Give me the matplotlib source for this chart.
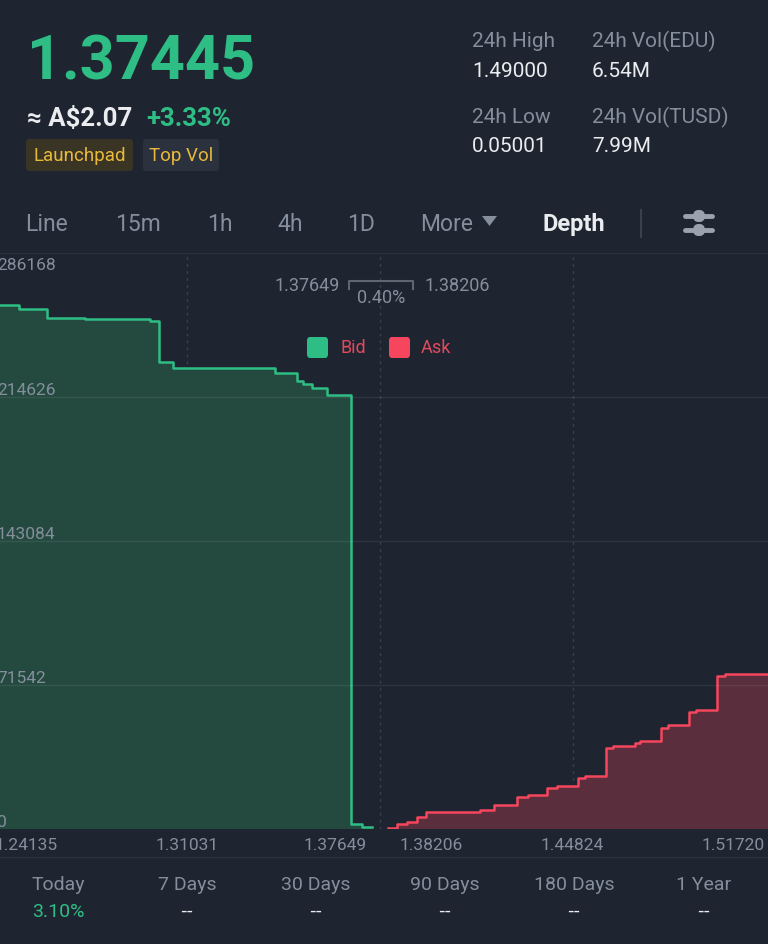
import matplotlib
matplotlib.use('Agg')
import matplotlib.pyplot as plt
import matplotlib.transforms as mtrans
from matplotlib.patches import FancyBboxPatch, Polygon
from matplotlib.lines import Line2D

# ---------------- data ----------------
last_price = "1.37445"
fiat_price = "≈ A$2.07"
change_pct = "+3.33%"
tags = ["Launchpad", "Top Vol"]
stat_labels = ["24h High", "24h Vol(EDU)", "24h Low", "24h Vol(TUSD)"]
stat_values = ["1.49000", "6.54M", "0.05001", "7.99M"]
tabs = ["Line", "15m", "1h", "4h", "1D", "More"]
active_tab = "Depth"

bid_price = [1.24135, 1.25009, 1.26013, 1.27375, 1.29705, 1.30027, 1.30529,
             1.34185, 1.34974, 1.35189, 1.35511, 1.36049, 1.36909, 1.37303, 1.37649]
bid_depth = [260300, 258200, 253900, 253400, 252500, 232200, 229200,
             226700, 222700, 221100, 219100, 215600, 2500, 1000, 1000]
ask_price = [1.38206, 1.38529, 1.38887, 1.39245, 1.39568, 1.41503, 1.42005, 1.42830,
             1.43224, 1.43905, 1.44263, 1.45016, 1.45267, 1.46020, 1.46271, 1.47059,
             1.47238, 1.47991, 1.48242, 1.48995, 1.49245, 1.49998, 1.50285, 1.51826]
ask_depth = [650, 2500, 3500, 6000, 8450, 9450, 11900, 15900,
             16900, 20400, 21400, 25300, 26300, 40200, 41200, 42700,
             43700, 50200, 51700, 58100, 59100, 76000, 77000, 77000]

y_ticks = [0, 71542, 143084, 214626, 286168]
bid_ticks = [1.24135, 1.31031, 1.37649]
ask_ticks = [1.38206, 1.44824, 1.51720]
best_bid = "1.37649"
best_ask = "1.38206"
spread = "0.40%"

periods = ["Today", "7 Days", "30 Days", "90 Days", "180 Days", "1 Year"]
period_vals = ["3.10%", "--", "--", "--", "--", "--"]

# ---------------- style ----------------
W, H = 768, 944
BG = '#1f2530'
GREEN = '#2ebd85'
RED = '#f6465d'
GREY = '#848e9c'
WHITE = '#eaecef'
YELLOW = '#e9b93a'
BID_FILL = '#244a40'
ASK_FILL = '#5a2e3c'
LINE_C = '#2b313b'
FONT = ['Roboto', 'DejaVu Sans']

fig = plt.figure(figsize=(W / 100, H / 100), dpi=100, facecolor=BG)


def fx(x):
    return x / W


def fy(y):
    return 1 - y / H


def txt(x, y, s, size, color, ha='left', va='baseline', weight='normal', family=None):
    fig.text(fx(x), fy(y), s, fontsize=size, color=color, ha=ha, va=va,
             fontweight=weight, family=family or FONT)


def hline(x0, x1, y, color=LINE_C, lw=1.0):
    fig.add_artist(Line2D([fx(x0), fx(x1)], [fy(y), fy(y)], color=color, lw=lw,
                          transform=fig.transFigure))


# ---------------- header ----------------
txt(27, 80, last_price, 44, GREEN, weight='bold')
txt(27, 126, fiat_price, 18.5, WHITE, weight='bold')
txt(146, 126, change_pct, 18.5, GREEN, weight='bold')

tag_boxes = [(26, 139, 107, 32, '#3a3424'), (143, 139, 76, 32, '#2b313d')]
for (x, y, w, h, c), t in zip(tag_boxes, tags):
    fig.add_artist(FancyBboxPatch((fx(x), fy(y + h)), w / W, h / H,
                                  boxstyle='round,pad=0,rounding_size=0.004',
                                  transform=fig.transFigure, facecolor=c, edgecolor='none'))
    txt(x + w / 2, y + h / 2 + 1, t, 13.5, YELLOW, ha='center', va='center')

stat_pos = [(472, 47, 77), (592, 47, 77), (472, 123, 152), (592, 123, 152)]
for (x, yl, yv), lab, val in zip(stat_pos, stat_labels, stat_values):
    txt(x, yl, lab, 15, GREY)
    txt(x, yv, val, 15, WHITE)

# ---------------- tabs ----------------
tab_x = [25, 115, 207, 277, 347, 420]
for x, t in zip(tab_x, tabs):
    txt(x, 231, t, 16.5, GREY)
fig.add_artist(Polygon([[fx(482), fy(216)], [fx(497), fy(216)], [fx(489.5), fy(226)]],
                       closed=True, transform=fig.transFigure, facecolor=GREY, edgecolor='none'))
txt(543, 231, active_tab, 17, WHITE, weight='bold')
fig.add_artist(Line2D([fx(641), fx(641)], [fy(210), fy(237)], color='#3a414c', lw=1.5,
                      transform=fig.transFigure))
# settings icon
for yy, kx in [(216, 699), (230, 699)]:
    fig.add_artist(Line2D([fx(685), fx(712)], [fy(yy), fy(yy)], color='#9aa2ae', lw=3.5,
                          solid_capstyle='round', transform=fig.transFigure))
    fig.add_artist(FancyBboxPatch((fx(kx - 6), fy(yy + 6)), 12 / W, 12 / H,
                                  boxstyle='round,pad=0,rounding_size=0.007',
                                  transform=fig.transFigure, facecolor='#9aa2ae', edgecolor='none'))

hline(0, W, 253)
hline(0, W, 857)

# ---------------- depth chart ----------------
px_per_unit = 2790.0
top_px, base_px = 253, 829
bid_left_px = -5.4
ax_b_w = 384 - bid_left_px
ax_b = fig.add_axes([bid_left_px / W, (H - base_px) / H, ax_b_w / W, (base_px - top_px) / H])
ax_a = fig.add_axes([384 / W, (H - base_px) / H, 384 / W, (base_px - top_px) / H])

bid_lo = bid_ticks[0]
ax_b.set_xlim(bid_lo, bid_lo + ax_b_w / px_per_unit)
ask_lo = ask_ticks[0] - 4 / px_per_unit
ax_a.set_xlim(ask_lo, ask_lo + 384 / px_per_unit)

for ax in (ax_b, ax_a):
    ax.set_ylim(y_ticks[0], y_ticks[-1])
    ax.set_facecolor('none')
    ax.axis('off')
    for v in y_ticks[1:-1]:
        ax.axhline(v, color='white', alpha=0.07, lw=1, zorder=3)

# vertical dotted grid
ax_b.axvline(bid_ticks[1], color='#3a414c', lw=1, ls=(0, (2, 3)), zorder=0)
ax_a.axvline(ask_ticks[1], color='#3a414c', lw=1, ls=(0, (2, 3)), zorder=0)
ax_b.axvline(ax_b.get_xlim()[1] - 4 / px_per_unit, color='#3a414c', lw=1, ls=(0, (2, 3)), zorder=0)

ax_b.fill_between(bid_price, bid_depth, step='post', color=BID_FILL, lw=0, zorder=1)
ax_b.step(bid_price, bid_depth, where='post', color=GREEN, lw=1.8, zorder=2)
ax_a.fill_between(ask_price, ask_depth, step='post', color=ASK_FILL, lw=0, zorder=1)
ax_a.step(ask_price, ask_depth, where='post', color=RED, lw=1.8, zorder=2)

# y labels
for v in y_ticks:
    off = -13 if v == y_ticks[-1] else 6.5
    tr = mtrans.blended_transform_factory(fig.transFigure, ax_b.transData) + \
        mtrans.ScaledTranslation(0, off / 100, fig.dpi_scale_trans)
    fig.text(-3 / W, v, str(v), transform=tr, fontsize=12.5, color=GREY,
             ha='left', va='center', family=FONT)


# x labels
def xlab(ax, v, ha, dx):
    tr = mtrans.blended_transform_factory(ax.transData, ax.transAxes) + \
        mtrans.ScaledTranslation(dx / 100, -16 / 100, fig.dpi_scale_trans)
    ax.text(v, 0, f"{v:.5f}", transform=tr, fontsize=12.5, color=GREY,
            ha=ha, va='center', family=FONT, clip_on=False)


xlab(ax_b, bid_ticks[0], 'left', 0)
xlab(ax_b, bid_ticks[1], 'center', 0)
xlab(ax_b, bid_ticks[2], 'right', -5)
xlab(ax_a, ask_ticks[0], 'left', 12)
xlab(ax_a, ask_ticks[1], 'center', 0)
xlab(ax_a, ask_ticks[2], 'right', 0)

# spread annotation
txt(340, 291, best_bid, 13, GREY, ha='right')
txt(424, 291, best_ask, 13, GREY, ha='left')
fig.add_artist(Line2D([fx(349), fx(349), fx(413), fx(413)],
                      [fy(289), fy(281), fy(281), fy(289)], color='#5e6673', lw=1.5,
                      transform=fig.transFigure))
txt(381, 303, spread, 13, GREY, ha='center')

# legend
for x0, c, lab, tx in [(307, GREEN, 'Bid', 340), (389, RED, 'Ask', 421)]:
    fig.add_artist(FancyBboxPatch((fx(x0), fy(358)), 21 / W, 21 / H,
                                  boxstyle='round,pad=0,rounding_size=0.004',
                                  transform=fig.transFigure, facecolor=c, edgecolor='none'))
    txt(tx, 353, lab, 13, '#e04a5f')

# ---------------- bottom stats ----------------
col_x = [58, 187, 316, 445, 574, 704]
for x, p, v in zip(col_x, periods, period_vals):
    txt(x, 890, p, 14, GREY, ha='center')
    if v == '--':
        txt(x, 916, v, 13, WHITE, ha='center', family=['DejaVu Sans'])
    else:
        txt(x, 917, v, 14, GREEN, ha='center')

fig.savefig('out.png', dpi=100, facecolor=BG)
